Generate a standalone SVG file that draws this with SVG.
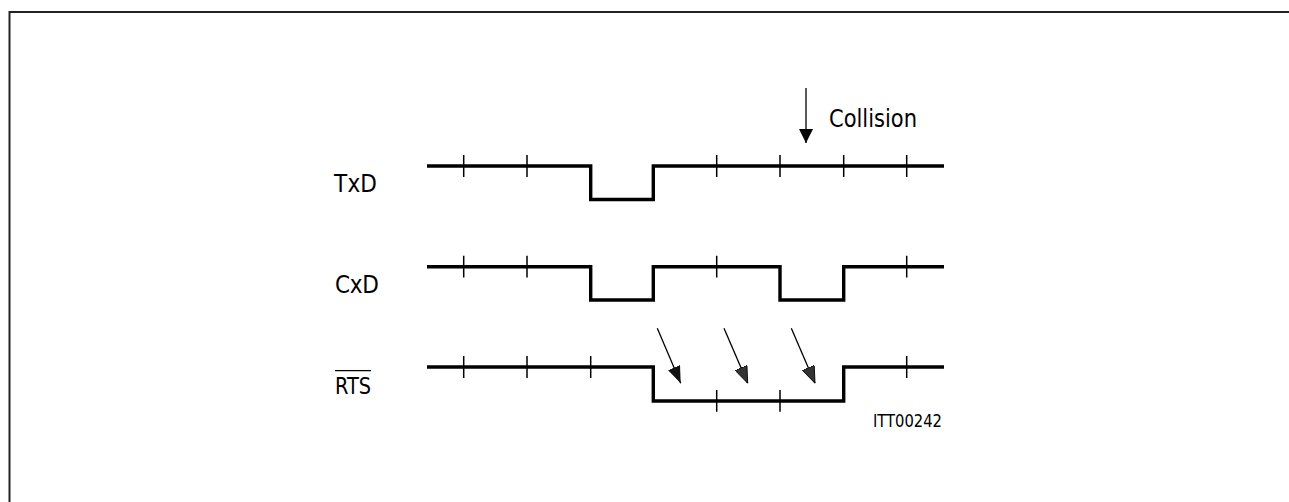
<svg xmlns="http://www.w3.org/2000/svg" width="1289" height="502" viewBox="0 0 1289 502">
<style>
.sig{fill:none;stroke:#000;stroke-width:3.4;stroke-linejoin:miter}
.tick{stroke:#000;stroke-width:1.5}
.arr{stroke:#000;stroke-width:1.3;fill:none}
.lbl{font-family:"DejaVu Sans Condensed","DejaVu Sans","Liberation Sans",sans-serif;font-size:24px;fill:#000}
</style>
<defs>
<marker id="ah" markerUnits="userSpaceOnUse" markerWidth="17" markerHeight="13" refX="17" refY="6.5" orient="auto">
<path d="M0,0 L17,6.5 L0,13 z" fill="#111"/>
</marker>
<marker id="ah2" markerUnits="userSpaceOnUse" markerWidth="17" markerHeight="13" refX="17" refY="6.5" orient="auto">
<path d="M0,0 L17,6.5 L0,13 z" fill="#333" stroke="#000" stroke-width="0.8"/>
</marker>
<marker id="ahc" markerUnits="userSpaceOnUse" markerWidth="14" markerHeight="14" refX="14" refY="7" orient="auto">
<path d="M0,0 L14,7 L0,14 z" fill="#000"/>
</marker>
</defs>
<g id="frame">
<path d="M9.5,502 V12 H1289" fill="none" stroke="#222" stroke-width="2"/>
</g>
<g id="txd">
<text class="lbl" x="334" y="192" textLength="43" lengthAdjust="spacing">TxD</text>
<path class="sig" d="M427,166 H590.7 V199.5 H653.3 V166 H944"/>
<path class="tick" d="M463.7,155V177 M527,155V177 M716.7,155V177 M780,155V177 M843.7,155V177 M906.7,155V177"/>
</g>
<g id="cxd">
<text class="lbl" x="335" y="293" textLength="44" lengthAdjust="spacing">CxD</text>
<path class="sig" d="M427,266.7 H590.7 V300 H653.3 V266.7 H780 V300 H843.7 V266.7 H944"/>
<path class="tick" d="M463.7,255.7V277.5 M527,255.7V277.5 M716.7,255.7V277.5 M906.7,255.7V277.5"/>
</g>
<g id="rts">
<text class="lbl" x="335" y="393.5" textLength="36" lengthAdjust="spacingAndGlyphs" style="font-size:23px">RTS</text>
<line x1="335" y1="370.7" x2="371" y2="370.7" stroke="#000" stroke-width="1.3"/>
<path class="sig" d="M427,367 H653.3 V401 H843.7 V367 H944"/>
<path class="tick" d="M463.7,356V378 M527,356V378 M590.7,356V378 M906.7,356V378 M716.7,390V411.7 M780,390V411.7"/>
</g>
<g id="collision">
<text class="lbl" x="829" y="127.3" textLength="88" lengthAdjust="spacingAndGlyphs" style="font-size:24px">Collision</text>
</g>
<g id="label-id">
<text class="lbl" x="873" y="426.7" textLength="69" lengthAdjust="spacingAndGlyphs" style="font-size:18px">ITT00242</text>
</g>
<g id="connectors">
<line class="arr" x1="806" y1="88" x2="806" y2="143" marker-end="url(#ahc)"/>
<line class="arr" x1="657.3" y1="328.3" x2="680.7" y2="383.3" marker-end="url(#ah)"/>
<line class="arr" x1="724" y1="328.3" x2="747.7" y2="383.3" marker-end="url(#ah2)"/>
<line class="arr" x1="791.3" y1="328.3" x2="815" y2="383.3" marker-end="url(#ah2)"/>
</g>
</svg>
